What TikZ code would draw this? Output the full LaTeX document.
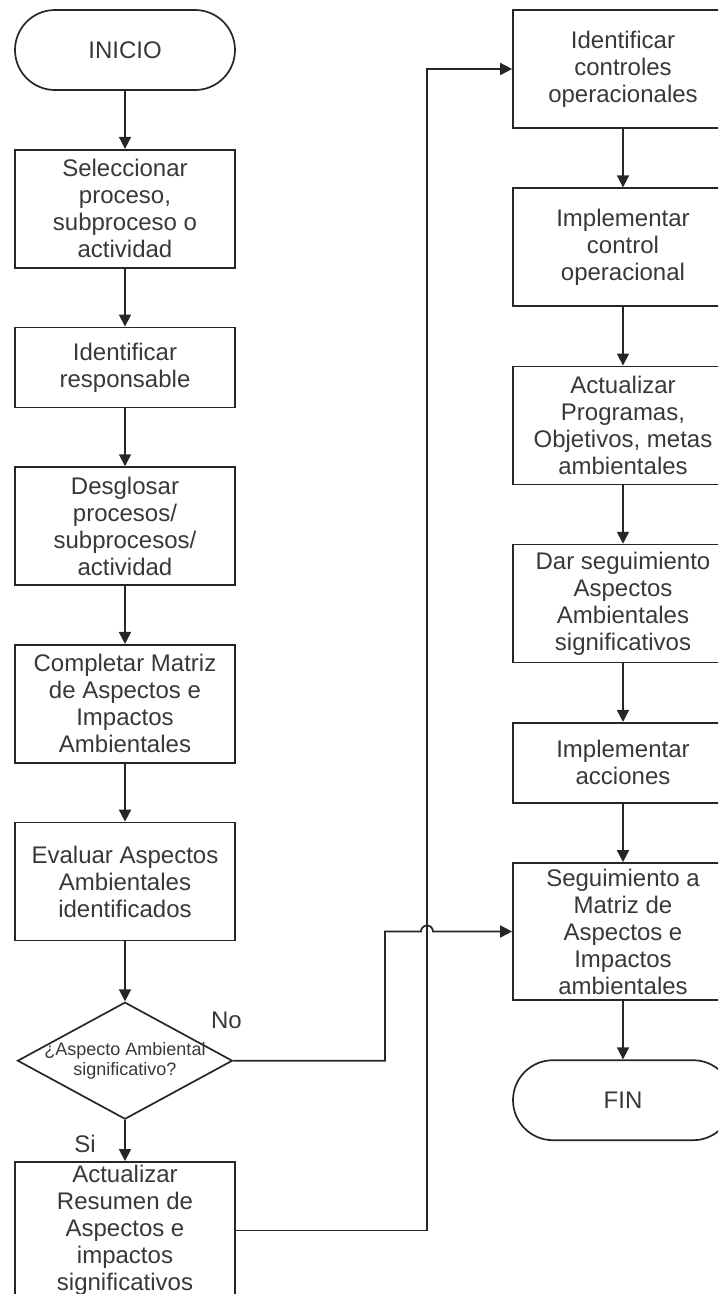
\documentclass[tikz,border=0pt]{standalone}
\usepackage{fontspec}
\setmainfont{Liberation Sans}
\usetikzlibrary{shapes.geometric, positioning, arrows.meta, calc}

\begin{document}
\begin{tikzpicture}[
        x=1pt, y=1pt,
        % Define styles for the nodes
        base_node/.style={draw=black!85, line width=1.7pt, align=center, text=black!78, inner sep=2pt,
            font=\fontsize{24pt}{27pt}\selectfont},
        terminal/.style={base_node, rounded corners=40pt, minimum width=220pt, minimum height=80pt},
        process/.style={base_node, minimum width=220pt, minimum height=118pt},
        short_process/.style={process, minimum height=80pt},
        long_process/.style={process, minimum height=137pt},
        decision/.style={diamond, draw=black!85, line width=1.7pt, minimum width=215pt, minimum height=117pt, inner sep=0pt},
        small_text/.style={align=center, text=black!78, inner sep=0pt, font=\fontsize{18pt}{20pt}\selectfont},
        answer/.style={text=black!78, inner sep=0pt, font=\fontsize{24pt}{27pt}\selectfont},
        arrow/.style={-{Triangle[length=12pt, width=12pt]}, line width=1.7pt, draw=black!85}
    ]

    % Page frame, the right column runs off the edge
    \useasboundingbox (0,0) rectangle (718,-1294);
    \clip (0,0) rectangle (718,-1294);

    % Left column
    \node (inicio) [terminal] at (125,-50) {INICIO};
    \node (sel) [process, below=58pt of inicio] {Seleccionar\\proceso,\\subproceso o\\actividad};
    \node (resp) [short_process, below=58pt of sel] {Identificar\\responsable};
    \node (desglose) [process, below=58pt of resp] {Desglosar\\procesos/\\subprocesos/\\actividad};
    \node (matriz) [process, below=58pt of desglose] {Completar Matriz\\de Aspectos e\\Impactos\\Ambientales};
    \node (evaluar) [process, below=58pt of matriz] {Evaluar Aspectos\\Ambientales\\identificados};

    % Decision and its answers
    \node (dec) [decision, below=60pt of evaluar] {};
    \node (q_text) [small_text] at (dec) {¿Aspecto Ambiental\\significativo?};
    \node (no_label) [answer] at ($(dec.east)+(-7,40)$) {No};
    \node (si_label) [answer] at ($(dec.south)+(-40,-24)$) {Si};
    \node (resumen) [long_process, below=41pt of dec] {Actualizar\\Resumen de\\Aspectos e\\impactos\\significativos};

    \draw [arrow] (inicio) -- (sel);
    \draw [arrow] (sel) -- (resp);
    \draw [arrow] (resp) -- (desglose);
    \draw [arrow] (desglose) -- (matriz);
    \draw [arrow] (matriz) -- (evaluar);
    \draw [arrow] (evaluar) -- (dec);
    \draw [arrow] (dec) -- (resumen);

    % Right column
    \node (ctrl) [process] at (623,-69) {Identificar\\controles\\operacionales};
    \node (impl_ctrl) [process, below=58.5pt of ctrl] {Implementar\\control\\operacional};
    \node (programas) [process, below=58.5pt of impl_ctrl] {Actualizar\\Programas,\\Objetivos, metas\\ambientales};
    \node (seguir) [process, below=58.5pt of programas] {Dar seguimiento\\Aspectos\\Ambientales\\significativos};
    \node (acciones) [short_process, below=58.5pt of seguir] {Implementar\\acciones};
    \node (seg) [long_process, below=58.5pt of acciones] {Seguimiento a\\Matriz de\\Aspectos e\\Impactos\\ambientales};
    \node (fin) [terminal, below=58.5pt of seg] {FIN};

    \draw [arrow] (ctrl) -- (impl_ctrl);
    \draw [arrow] (impl_ctrl) -- (programas);
    \draw [arrow] (programas) -- (seguir);
    \draw [arrow] (seguir) -- (acciones);
    \draw [arrow] (acciones) -- (seg);
    \draw [arrow] (seg) -- (fin);

    % Links between the columns, the "No" line hops over the other one
    \coordinate (bus) at (427,0);
    \coordinate (no_bend) at (385,0);
    \draw [arrow] (resumen.east) -- (bus |- resumen.east) |- (ctrl.west);
    \draw [arrow] (dec.east) -- (no_bend |- dec.east) |- ($(bus |- seg.west)+(-6,0)$)
        arc[start angle=180, end angle=0, radius=6pt] -- (seg.west);

\end{tikzpicture}
\end{document}
